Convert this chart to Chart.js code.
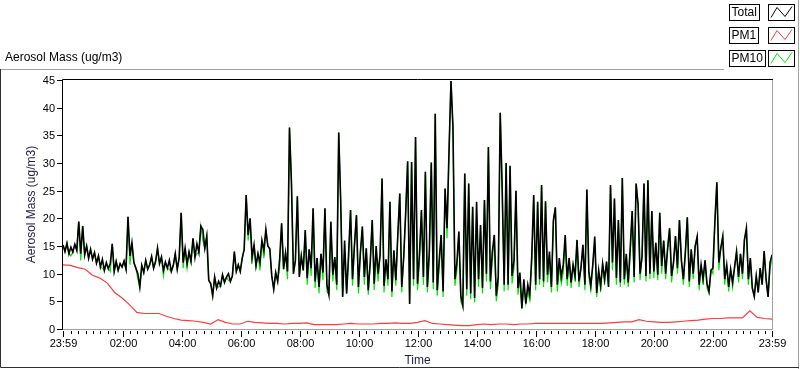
<!DOCTYPE html>
<html>
<head>
<meta charset="utf-8">
<script src="https://cdn.jsdelivr.net/npm/chart.js@4/dist/chart.umd.min.js"></script>
<style>
  html, body { margin: 0; padding: 0; background: #fff; }
  canvas { display: block; }
</style>
</head>
<body>
<canvas id="aerosolChart" width="800" height="369"></canvas>
<script>
// time axis runs from 23:59 the day before to 23:59, in minutes after midnight
const startMinute = -1
const endMinute = 1439
const sampleStep = 4   // Total / PM10 read every 4 minutes
const pm1Step = 15     // PM1 read every 15 minutes

// one row per hour, ug/m3
const total = [
  15.2, 14.0, 15.5, 13.6, 14.8, 13.9, 15.3, 14.2, 19.4, 13.6, 18.6, 13.4, 15.0, 12.8, 14.4,
  12.6, 13.8, 11.9, 13.2, 11.2, 12.6, 10.6, 12.0, 10.9, 11.8, 15.4, 10.4, 12.2, 10.6, 11.8,
  11.2, 12.3, 10.8, 20.3, 13.2, 15.6, 12.0, 11.0, 10.0, 7.6, 11.5, 10.2, 12.4, 10.8, 11.6,
  13.1, 11.0, 12.2, 14.6, 11.8, 13.0, 10.6, 12.1, 11.0, 12.4, 10.4, 11.5, 13.6, 10.8, 12.9,
  21.0, 12.0, 14.6, 11.8, 13.9, 12.2, 16.4, 13.0, 15.4, 13.8, 18.6, 18.0, 14.6, 16.8, 8.8,
  8.2, 6.0, 9.4, 7.4, 8.6, 7.8, 9.8, 8.4, 9.4, 10.0, 8.6, 9.6, 14.0, 10.4, 11.6,
  10.4, 12.8, 14.4, 24.2, 17.0, 20.0, 13.0, 15.2, 11.4, 13.6, 12.0, 16.0, 14.2, 18.0, 15.0,
  14.5, 9.6, 7.2, 10.2, 8.6, 12.6, 19.1, 10.8, 13.8, 10.4, 36.4, 26.4, 10.0, 12.4, 24.0,
  9.4, 13.2, 10.6, 17.9, 9.2, 14.4, 11.0, 21.8, 8.6, 12.8, 7.6, 13.6, 10.2, 21.8, 8.0,
  6.2, 19.4, 9.8, 13.0, 8.0, 35.5, 23.1, 5.8, 16.0, 6.4, 13.5, 21.5, 9.0, 15.2, 20.6,
  7.6, 13.8, 18.5, 9.4, 14.6, 7.0, 12.0, 19.7, 8.2, 15.0, 10.0, 13.4, 27.2, 7.8, 12.6,
  9.0, 23.0, 6.8, 14.2, 8.8, 17.0, 24.5, 7.6, 13.0, 21.0, 30.3, 4.5, 30.2, 9.0, 34.7,
  8.2, 13.6, 21.5, 9.4, 28.4, 7.6, 14.0, 30.1, 8.4, 38.9, 7.0, 12.4, 17.0, 6.8, 25.4,
  18.2, 32.1, 44.8, 36.5, 9.0, 12.0, 17.6, 6.0, 4.3, 28.1, 7.2, 26.3, 6.4, 22.1, 5.6,
  23.0, 9.0, 18.8, 7.4, 23.3, 10.0, 32.9, 8.6, 14.0, 17.0, 6.0, 9.4, 39.1, 25.2, 8.0,
  30.0, 8.0, 29.5, 9.6, 12.4, 25.0, 7.4, 10.2, 3.7, 9.0, 4.6, 8.0, 6.2, 13.0, 24.2,
  8.0, 23.0, 9.0, 26.0, 8.6, 23.1, 9.8, 14.0, 7.6, 19.6, 22.0, 8.0, 12.8, 9.4, 11.6,
  17.0, 9.0, 12.8, 8.4, 11.6, 9.6, 16.1, 8.6, 11.0, 15.2, 8.0, 25.2, 10.4, 7.8, 11.6,
  16.7, 6.5, 10.6, 7.8, 11.8, 9.0, 12.2, 7.6, 26.0, 12.0, 23.6, 9.2, 19.7, 8.4, 27.3,
  9.0, 13.6, 8.4, 14.6, 21.3, 9.4, 26.3, 22.5, 10.0, 13.0, 26.3, 9.6, 26.9, 10.0, 21.3,
  10.4, 15.6, 9.8, 21.0, 11.4, 16.0, 10.0, 14.6, 18.2, 9.6, 12.0, 16.8, 11.0, 19.7, 12.4,
  9.0, 13.8, 20.2, 8.6, 14.4, 10.0, 15.0, 16.7, 8.0, 11.6, 9.0, 12.4, 8.2, 6.8, 10.6,
  11.0, 19.4, 26.5, 12.0, 14.6, 16.7, 9.0, 11.6, 7.6, 10.8, 8.4, 11.2, 14.0, 9.4, 13.6,
  10.0, 16.1, 18.2, 9.0, 12.8, 7.4, 5.9, 9.6, 6.6, 11.0, 8.0, 14.1, 9.0, 5.8, 12.0, 13.4
]

const pm10 = [
  15.2, 14.0, 15.5, 13.6, 13.2, 13.9, 15.3, 14.2, 19.4, 12.4, 18.6, 13.4, 15.0, 12.8, 14.4,
  12.6, 13.8, 11.9, 13.2, 11.2, 11.0, 10.6, 12.0, 10.9, 10.4, 15.4, 10.4, 12.2, 10.6, 11.8,
  11.2, 12.3, 10.8, 20.3, 11.6, 15.6, 12.0, 11.0, 9.0, 7.6, 11.5, 10.2, 12.4, 10.8, 11.6,
  13.1, 11.0, 12.2, 14.6, 11.8, 13.0, 9.6, 12.1, 11.0, 10.8, 10.4, 11.5, 13.6, 10.8, 12.9,
  21.0, 11.0, 14.6, 11.0, 13.9, 12.2, 16.4, 13.0, 13.6, 13.8, 18.6, 16.0, 14.6, 16.8, 8.8,
  8.2, 6.0, 9.4, 7.4, 7.6, 7.8, 9.8, 8.4, 9.4, 8.8, 8.6, 9.6, 14.0, 10.4, 11.6,
  10.4, 12.8, 14.4, 24.2, 16.0, 20.0, 11.8, 15.2, 11.4, 13.6, 10.6, 16.0, 12.8, 18.0, 15.0,
  14.5, 9.6, 7.2, 10.2, 8.6, 11.0, 19.1, 10.8, 13.8, 9.0, 36.4, 26.4, 10.0, 12.4, 24.0,
  9.4, 13.2, 10.6, 17.9, 8.0, 14.4, 9.6, 21.8, 7.4, 12.8, 6.4, 13.6, 8.8, 21.8, 6.8,
  6.2, 19.4, 8.6, 13.0, 7.0, 35.5, 23.1, 5.8, 14.4, 6.4, 12.0, 21.5, 7.8, 15.2, 20.6,
  6.4, 13.8, 18.5, 8.0, 14.6, 6.2, 12.0, 19.7, 7.0, 13.4, 8.6, 13.4, 27.2, 6.6, 12.6,
  7.8, 23.0, 5.8, 14.2, 7.8, 17.0, 24.5, 6.6, 13.0, 21.0, 30.3, 4.5, 30.2, 7.8, 34.7,
  7.0, 12.0, 21.5, 8.0, 28.4, 6.6, 12.6, 30.1, 7.2, 38.9, 6.0, 11.0, 17.0, 5.8, 25.4,
  16.4, 32.1, 44.8, 36.5, 7.8, 10.6, 17.6, 5.0, 4.0, 28.1, 6.0, 26.3, 5.4, 22.1, 4.8,
  21.0, 7.6, 18.8, 6.4, 23.3, 8.6, 32.9, 7.2, 12.4, 17.0, 5.0, 8.0, 39.1, 25.2, 6.8,
  30.0, 7.0, 29.5, 8.2, 11.0, 25.0, 6.2, 9.0, 3.7, 7.8, 4.6, 6.8, 5.2, 11.6, 24.2,
  7.0, 23.0, 8.0, 26.0, 7.6, 23.1, 8.4, 12.6, 6.6, 19.6, 22.0, 6.8, 11.4, 8.2, 10.2,
  16.0, 7.8, 12.8, 7.4, 11.6, 8.6, 16.1, 7.6, 11.0, 15.2, 7.0, 25.2, 9.4, 7.0, 11.6,
  15.6, 5.8, 10.6, 6.8, 11.8, 8.0, 12.2, 7.6, 26.0, 10.6, 23.6, 8.0, 19.7, 7.6, 27.3,
  8.0, 12.2, 7.6, 13.2, 21.3, 8.4, 26.3, 22.5, 8.8, 13.0, 26.3, 8.6, 26.9, 9.0, 21.3,
  9.2, 15.6, 8.8, 21.0, 10.0, 16.0, 9.0, 14.6, 18.2, 8.4, 12.0, 16.8, 10.0, 19.7, 12.4,
  8.0, 13.8, 20.2, 7.6, 14.4, 9.0, 15.0, 16.7, 7.0, 11.6, 8.0, 12.4, 7.4, 6.4, 10.6,
  10.0, 19.4, 26.5, 10.6, 14.6, 16.7, 8.0, 11.6, 6.8, 10.8, 7.6, 11.2, 14.0, 8.4, 13.6,
  9.0, 16.1, 18.2, 8.0, 12.8, 7.4, 5.9, 9.6, 6.6, 11.0, 8.0, 14.1, 9.0, 5.8, 11.0, 12.6
]

const pm1 = [
  11.6, 11.5, 11.1, 10.8, 9.7, 9.2, 8.3, 6.6,
  5.6, 4.4, 3.0, 2.8, 2.8, 2.8, 2.3, 1.9,
  1.6, 1.5, 1.4, 1.2, 0.9, 1.7, 1.2, 0.9,
  0.9, 1.4, 1.2, 1.1, 1.0, 1.0, 0.9, 1.0,
  1.0, 1.1, 0.8, 0.8, 0.8, 0.8, 0.9, 1.0,
  0.9, 0.9, 0.9, 1.0, 1.0, 1.1, 1.0, 1.0,
  1.2, 1.5, 1.0, 0.9, 0.8, 0.7, 0.6, 0.6,
  0.8, 0.9, 0.8, 0.9, 0.9, 0.8, 0.9, 0.9,
  1.0, 1.0, 1.0, 1.0, 1.0, 1.0, 1.0, 1.0,
  1.0, 1.0, 1.1, 1.2, 1.3, 1.3, 1.7, 1.4,
  1.3, 1.2, 1.2, 1.3, 1.4, 1.5, 1.6, 1.8,
  1.9, 1.9, 2.0, 2.0, 2.0, 3.3, 2.1, 1.9,
  1.8
]

const yTicks = [0, 5, 10, 15, 20, 25, 30, 35, 40, 45]
const timeTicks = [-1, 120, 240, 360, 480, 600, 720, 840, 960, 1080, 1200, 1320, 1439]
const timeLabels = ['23:59', '02:00', '04:00', '06:00', '08:00', '10:00', '12:00',
  '14:00', '16:00', '18:00', '20:00', '22:00', '23:59']
const minorTickStep = 15

const seriesNames = ['Total', 'PM1', 'PM10']
const seriesColors = ['#000000', '#ff3b3b', '#00e600']

const toPoints = (values, step) => values.map((v, i) => ({ x: startMinute + i * step, y: v }))

const font = '12px "Liberation Sans", Arial, sans-serif'
const tickFont = '11px "Liberation Sans", Arial, sans-serif'

// draws the LabVIEW-like frame, axes and legend around the plot area
const labviewFrame = {
  id: 'labviewFrame',
  afterDraw(chart) {
    const ctx = chart.ctx
    const { left, right, top, bottom } = chart.chartArea
    const xs = chart.scales.x
    const ys = chart.scales.y
    ctx.save()
    ctx.lineWidth = 1

    // outer panel
    ctx.strokeStyle = '#a0a0a0'
    ctx.beginPath()
    ctx.moveTo(0, 69.5); ctx.lineTo(724, 69.5)
    ctx.moveTo(798.5, 0); ctx.lineTo(798.5, 369)
    ctx.stroke()
    ctx.strokeStyle = '#303030'
    ctx.beginPath()
    ctx.moveTo(0.5, 69); ctx.lineTo(0.5, 367.5); ctx.lineTo(799, 367.5)
    ctx.stroke()

    // plot border
    ctx.strokeStyle = '#000'
    ctx.beginPath()
    ctx.moveTo(left - 0.5, bottom + 1); ctx.lineTo(left - 0.5, top - 0.5); ctx.lineTo(right + 1, top - 0.5)
    ctx.stroke()
    ctx.strokeStyle = '#a0a0a0'
    ctx.beginPath()
    ctx.moveTo(right + 0.5, top); ctx.lineTo(right + 0.5, bottom + 0.5); ctx.lineTo(left, bottom + 0.5)
    ctx.stroke()

    ctx.font = tickFont
    ctx.fillStyle = '#000'
    ctx.strokeStyle = '#000'

    // y axis
    ctx.textAlign = 'right'
    ctx.textBaseline = 'middle'
    yTicks.forEach(v => {
      const py = Math.round(ys.getPixelForValue(v)) + 0.5
      ctx.beginPath(); ctx.moveTo(left - 6, py); ctx.lineTo(left - 1, py); ctx.stroke()
      ctx.fillText(String(v), left - 8, py)
    })

    // x axis: minor ticks every 15 min, labelled majors
    for (let t = minorTickStep; t < endMinute; t += minorTickStep) {
      const px = Math.round(xs.getPixelForValue(t)) + 0.5
      ctx.beginPath(); ctx.moveTo(px, bottom + 2); ctx.lineTo(px, bottom + 5); ctx.stroke()
    }
    ctx.textAlign = 'center'
    timeTicks.forEach((t, i) => {
      const px = Math.round(xs.getPixelForValue(t)) + 0.5
      ctx.beginPath(); ctx.moveTo(px, bottom + 2); ctx.lineTo(px, bottom + 8); ctx.stroke()
      ctx.fillText(timeLabels[i], px, bottom + 15)
    })

    // axis titles
    ctx.font = font
    ctx.fillStyle = '#1e1e46'
    ctx.fillText('Time', (left + right) / 2, bottom + 32)
    ctx.save()
    ctx.translate(32, (top + bottom) / 2)
    ctx.rotate(-Math.PI / 2)
    ctx.fillText('Aerosol Mass (ug/m3)', 0, 0)
    ctx.restore()

    ctx.fillStyle = '#000'
    ctx.textAlign = 'left'
    ctx.fillText('Aerosol Mass (ug/m3)', 5, 58)

    // legend
    seriesNames.forEach((name, i) => {
      const y0 = 4.5 + i * 23
      const w = Math.ceil(ctx.measureText(name).width) + 4
      ctx.strokeStyle = '#000'
      ctx.strokeRect(729.5, y0, w, 16)
      ctx.fillStyle = '#000'
      ctx.fillText(name, 731.5, y0 + 8.5)
      ctx.strokeRect(768.5, y0, 26, 16)
      ctx.strokeStyle = seriesColors[i]
      ctx.beginPath()
      ctx.moveTo(771, y0 + 13); ctx.lineTo(777, y0 + 3); ctx.lineTo(785, y0 + 12); ctx.lineTo(792, y0 + 2)
      ctx.stroke()
    })

    ctx.restore()
  }
}

new Chart(document.getElementById('aerosolChart'), {
  type: 'line',
  data: {
    datasets: [
      { label: seriesNames[0], data: toPoints(total, sampleStep), borderColor: seriesColors[0], borderWidth: 1.6 },
      { label: seriesNames[1], data: toPoints(pm1, pm1Step), borderColor: seriesColors[1], borderWidth: 1.2 },
      { label: seriesNames[2], data: toPoints(pm10, sampleStep), borderColor: seriesColors[2], borderWidth: 1.2 }
    ]
  },
  options: {
    responsive: false,
    animation: false,
    devicePixelRatio: 1,
    layout: { padding: { left: 63, top: 80, right: 28, bottom: 40 } },
    elements: {
      line: { tension: 0 },
      point: { radius: 0 }
    },
    scales: {
      x: { type: 'linear', min: startMinute, max: endMinute, display: false },
      y: { min: 0, max: 45, display: false }
    },
    plugins: {
      legend: { display: false },
      tooltip: { enabled: false }
    }
  },
  plugins: [labviewFrame]
})
</script>
</body>
</html>
